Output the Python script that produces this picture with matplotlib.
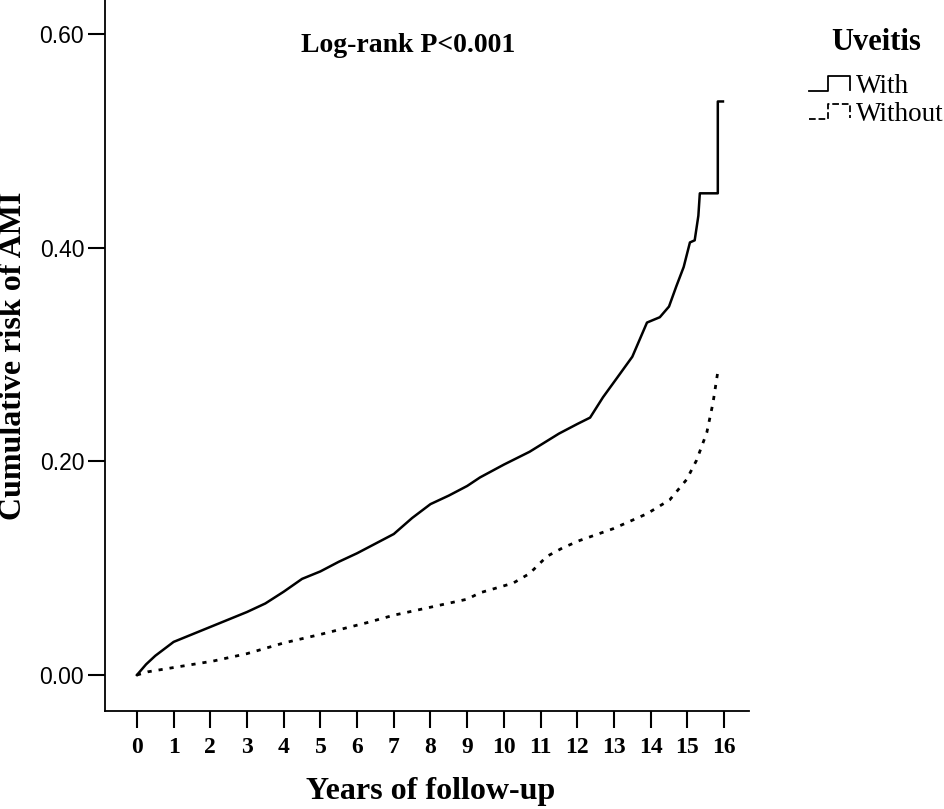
import matplotlib
matplotlib.use("Agg")
from matplotlib import pyplot as plt
from matplotlib.legend_handler import HandlerBase
from matplotlib.lines import Line2D

# cumulative risk curves
years_with = [0.0, 0.25, 0.5, 1.0, 1.5, 2.0, 2.5, 3.0, 3.5, 4.0, 4.5, 5.0, 5.5,
              6.0, 6.5, 7.0, 7.5, 8.0, 8.5, 9.0, 9.35, 10.0, 10.7, 11.5, 12.0,
              12.35, 12.7, 13.08, 13.5, 13.9, 14.25, 14.5, 14.7, 14.9, 15.07,
              15.2, 15.3, 15.34, 15.83, 15.83, 15.97]
risk_with = [0.0, 0.010, 0.018, 0.031, 0.038, 0.045, 0.052, 0.059, 0.067,
             0.078, 0.090, 0.097, 0.106, 0.114, 0.123, 0.132, 0.147, 0.160,
             0.168, 0.177, 0.185, 0.197, 0.209, 0.226, 0.235, 0.241, 0.260,
             0.278, 0.298, 0.330, 0.335, 0.345, 0.364, 0.382, 0.405, 0.407,
             0.430, 0.451, 0.451, 0.537, 0.537]

years_without = [0.0, 0.3, 1.0, 2.07, 3.0, 4.0, 5.0, 6.27, 7.0, 8.07, 9.0,
                 9.35, 10.25, 10.7, 11.17, 11.6, 12.07, 12.98, 13.9, 14.52,
                 14.98, 15.25, 15.53, 15.7, 15.83]
risk_without = [0.0, 0.003, 0.007, 0.013, 0.020, 0.030, 0.038, 0.049, 0.056,
                0.064, 0.071, 0.077, 0.086, 0.095, 0.111, 0.119, 0.126, 0.137,
                0.151, 0.164, 0.183, 0.201, 0.227, 0.255, 0.284]

x_ticks = list(range(0, 17))
y_ticks = [0.0, 0.2, 0.4, 0.6]
y_tick_labels = ["0.00", "0.20", "0.40", "0.60"]

SERIF = ["Liberation Serif", "DejaVu Serif"]
SANS = ["Liberation Sans", "DejaVu Sans"]
DOTTED = (0, (1.5, 2.5))


class StepHandler(HandlerBase):
    # little step-shaped legend glyph, as SPSS draws it
    def create_artists(self, legend, orig_handle, xdescent, ydescent,
                       width, height, fontsize, trans):
        xs = [f * width - xdescent for f in (0.0, 0.48, 0.48, 1.0, 1.0)]
        ys = [f * height - ydescent for f in (0.0, 0.0, 1.0, 1.0, 0.05)]
        line = Line2D(xs, ys, color=orig_handle.get_color(),
                      linestyle=orig_handle.get_linestyle(),
                      linewidth=1.3)
        line.set_transform(trans)
        return [line]


fig = plt.figure(figsize=(9.45, 8.09), dpi=100)
ax = fig.add_axes([105 / 945, 1 - 711 / 809, (749 - 105) / 945, 711 / 809])

line_with, = ax.plot(years_with, risk_with, color="black", linewidth=1.8)
line_without, = ax.plot(years_without, risk_without, color="black",
                        linewidth=2.0, linestyle=DOTTED)

ax.set_xlim(-0.87, 16.68)
ax.set_ylim(-0.0337, 0.632)
ax.spines["top"].set_visible(False)
ax.spines["right"].set_visible(False)
for side in ("left", "bottom"):
    ax.spines[side].set_linewidth(1.3)

ax.set_xticks(x_ticks)
ax.set_xticklabels([str(t) for t in x_ticks], family=SERIF, fontsize=17,
                   fontweight="bold")
ax.set_yticks(y_ticks)
ax.set_yticklabels(y_tick_labels, family=SANS, fontsize=16.5)
ax.tick_params(axis="both", direction="out", length=12, width=1.5)
ax.tick_params(axis="x", pad=7)
ax.tick_params(axis="y", pad=3)

fig.text(431 / 945, 1 - 792 / 809, "Years of follow-up", family=SERIF,
         fontsize=23, fontweight="bold", ha="center", va="center")
fig.text(14 / 945, 1 - 356 / 809, "Cumulative risk of AMI", family=SERIF,
         fontsize=23, fontweight="bold", ha="center", va="center",
         rotation=90)

fig.text(408 / 945, 1 - 45 / 809, "Log-rank P<0.001", family=SERIF,
         fontsize=20, fontweight="bold", ha="center", va="center")

# legend title drawn separately so its gap to the entries can be set
fig.text(876 / 945, 1 - 43 / 809, "Uveitis", family=SERIF, fontsize=22,
         fontweight="bold", ha="center", va="center")
fig.legend([line_with, line_without], ["With", "Without"],
           loc="upper left", bbox_to_anchor=(809 / 945, 1 - 74 / 809),
           frameon=False, handler_map={Line2D: StepHandler()},
           prop={"family": SERIF, "size": 19.5}, handlelength=1.5,
           handleheight=0.45, handletextpad=0.22, labelspacing=0.12,
           borderpad=0, borderaxespad=0)

fig.savefig("out.png", dpi=100)
